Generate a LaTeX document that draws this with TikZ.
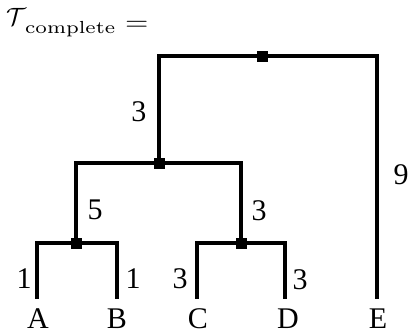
\documentclass[tikz,border=0pt]{standalone}
\usepackage{graphicx}
\usepackage{fontspec}
\newfontfamily\tnr{Liberation Serif}
\begin{document}
\begin{tikzpicture}[x=1pt,y=-1pt,
  edge/.style={line width=3.8pt,line join=miter,line cap=rect},
  joint/.style={fill=black,inner sep=0pt,minimum size=11pt},
  leaf/.style={anchor=base,font=\tnr\fontsize{30}{31}\selectfont,inner sep=0pt},
  wlabel/.style={anchor=base,font=\tnr\fontsize{30}{31}\selectfont,inner sep=0pt}]
\useasboundingbox (0,0) rectangle (416,333);
% title
\node[anchor=base west,inner sep=0pt] (title) at (6,25)
  {\scalebox{2.5}{$\mathcal{T}$}\hspace{-1pt}\raisebox{-8pt}{\scalebox{2.9}[2.5]{\scriptsize complete}}\hspace{10pt}\raisebox{-5pt}{\scalebox{3}[2.5]{$=$}}};
% internal joints
\node[joint] (root) at (262,56) {};
\node[joint] (n1) at (159,163) {};
\node[joint] (ab) at (76,243) {};
\node[joint] (cd) at (241,243) {};
% leaf tops
\coordinate (tA) at (37,297);
\coordinate (tB) at (117,297);
\coordinate (tC) at (197,297);
\coordinate (tD) at (285,297);
\coordinate (tE) at (377,297);
% leaf labels
\node[leaf] (A) at (38,328) {A};
\node[leaf] (B) at (117,328) {B};
\node[leaf] (C) at (198,328) {C};
\node[leaf] (D) at (288,328) {D};
\node[leaf] (E) at (378,328) {E};
% edges
\draw[edge] (tA) |- (ab.center) -| (tB);
\draw[edge] (tC) |- (cd.center) -| (tD);
\draw[edge] (ab.center) |- (n1.center) -| (cd.center);
\draw[edge] (n1.center) |- (root.center) -| (tE);
% weights
\node[wlabel] (w1) at (139,121) {3};
\node[wlabel] (w2) at (401,184) {9};
\node[wlabel] (w3) at (95,219) {5};
\node[wlabel] (w4) at (259,220) {3};
\node[wlabel] (w5) at (24,288) {1};
\node[wlabel] (w6) at (133,288) {1};
\node[wlabel] (w7) at (180,288) {3};
\node[wlabel] (w8) at (300,289) {3};
\end{tikzpicture}
\end{document}
